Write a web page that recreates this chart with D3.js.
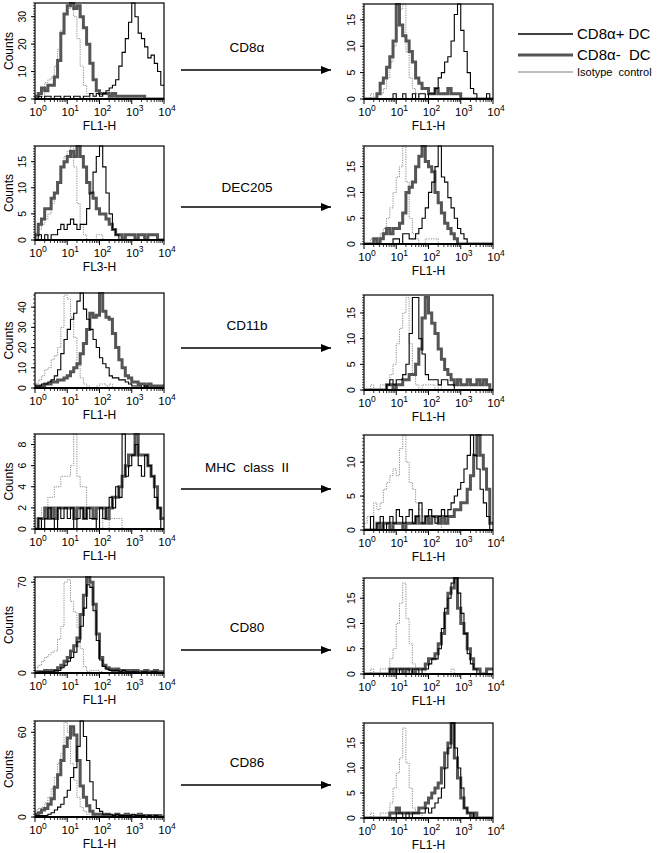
<!DOCTYPE html>
<html><head><meta charset="utf-8">
<script src="https://cdn.jsdelivr.net/npm/d3@7"></script>
<style>body{margin:0;background:#fff}svg{display:block}</style>
</head><body>
<svg id="c" width="671" height="853"></svg>
<script>
// ---- data: histogram counts, 10 bins per decade from 10^0 to 10^4 ----
const markers = ["CD8\u03b1", "DEC205", "CD11b", "MHC  class  II", "CD80", "CD86"];
const leftXLabels = ["FL1-H", "FL3-H", "FL1-H", "FL1-H", "FL1-H", "FL1-H"];
const rightXLabels = ["FL1-H", "FL1-H", "FL1-H", "FL1-H", "FL1-H", "FL1-H"];
const legendLabels = ["CD8\u03b1+ DC", "CD8\u03b1-  DC", "Isotype  control"];
const xTickExp = ["0", "1", "2", "3", "4"];

const leftYMax = [35, 18, 47, 9, 74, 68];
const rightYMax = [18, 19, 18.5, 14, 19, 19];
const leftYTicks = [[0,10,20,30],[0,5,10,15],[0,10,20,30,40],[0,2,4,6,8],[0,70],[0,60]];
const rightYTicks = [[0,5,10,15],[0,5,10,15],[0,5,10,15],[0,5,10],[0,5,10,15],[0,5,10,15]];

// CD8a
const p1L_pos = [0,1,0,1,1,0,1,1,0,1, 1,0,1,1,0,1,1,2,1,2, 1,2,3,4,5,7,12,17,22,28, 35,30,24,22,19,15,16,13,10,5];
const p1L_neg = [1,2,4,3,5,5,8,14,24,31, 34,35,33,34,30,26,20,13,7,3, 2,2,2,1,2,1,1,1,1,1, 1,1,1,1,0,0,0,0,0,0];
const p1L_iso = [0,0,1,6,7,8,12,18,25,31, 33,35,30,22,12,5,2,0,0,0, 0,0,0,0,0,0,0,0,0,0, 0,0,0,0,0,0,0,0,0,0];
const p1R_pos = [0,0,0,0,0,0,0,0,0,1, 0,0,1,0,0,1,0,1,1,0, 1,1,2,4,5,7,8,11,16,18, 13,9,5,2,1,0,0,0,1,0];
const p1R_neg = [0,0,0,0,1,3,4,6,8,11, 18,14,12,11,9,7,4,3,2,2, 1,1,2,1,1,1,2,1,1,1, 0,0,0,0,0,0,0,0,0,0];
const p1R_iso = [0,0,1,0,1,1,2,4,7,10, 14,17,18,9,4,2,1,0,0,0, 0,0,0,0,0,0,0,0,0,0, 0,0,0,0,0,0,0,0,0,0];
// DEC205
const p2L_pos = [0,1,0,1,0,1,1,2,3,2, 3,4,3,2,3,3,6,9,13,16, 18,14,9,5,2,1,0,0,0,0, 0,0,0,0,0,0,0,0,0,0];
const p2L_neg = [1,3,4,6,6,8,9,11,14,15, 16,17,16,18,16,14,11,9,8,6, 5,5,4,3,2,1,1,0,1,1, 1,0,1,1,0,1,1,1,0,0];
const p2L_iso = [1,2,3,4,5,7,9,11,14,16, 17,18,14,7,3,1,0,0,0,1, 1,0,0,0,0,0,0,0,0,0, 0,0,0,0,0,0,0,0,0,0];
const p2R_pos = [0,0,0,0,0,0,0,0,0,1, 1,0,2,2,1,1,2,3,5,7, 10,12,15,19,13,12,9,7,5,3, 2,1,0,0,0,0,0,0,0,0];
const p2R_neg = [0,0,0,1,0,1,2,3,2,3, 3,4,6,10,11,12,15,17,19,16, 15,14,10,8,6,4,3,2,1,0, 0,0,0,0,0,0,0,0,0,0];
const p2R_iso = [0,0,1,0,1,2,3,5,7,10, 13,15,19,12,5,2,1,0,0,1, 1,1,1,0,0,0,0,0,0,0, 0,0,0,0,0,0,0,0,0,0];
// CD11b
const p3L_pos = [1,1,2,2,3,4,6,9,17,24, 29,34,37,43,47,39,34,29,24,20, 15,12,10,6,5,5,4,4,3,2, 1,1,1,0,1,0,0,0,0,0];
const p3L_neg = [1,1,1,2,2,3,3,4,4,5, 6,8,10,12,17,22,29,37,35,36, 47,38,35,34,27,20,14,10,6,5, 3,3,2,2,1,2,1,1,1,1];
const p3L_iso = [2,4,6,9,10,14,16,20,30,46, 44,35,25,12,5,2,1,0,0,1, 2,2,1,2,0,0,0,0,0,0, 0,0,0,0,0,0,0,0,0,0];
const p3R_pos = [0,0,0,0,0,0,0,1,2,1, 2,2,3,5,11,18,18,10,7,3, 2,2,2,1,2,2,1,1,0,0, 0,0,0,0,0,0,0,0,0,0];
const p3R_neg = [0,0,0,0,0,0,0,1,1,0, 1,1,2,2,3,3,5,8,14,18, 15,13,11,8,6,4,3,2,1,2, 1,1,2,1,1,2,1,2,1,0];
const p3R_iso = [0,0,1,0,0,1,1,1,3,5, 9,12,15,18,9,3,1,0,1,1, 1,1,0,1,0,0,0,0,0,0, 0,0,0,0,0,0,0,0,0,0];
// MHC class II
const p4L_pos = [0,1,0,1,2,1,0,2,1,2, 1,2,0,1,2,1,2,1,1,0, 2,1,2,3,2,4,3,9,5,6, 7,8,6,5,7,6,5,3,2,0];
const p4L_neg = [0,1,1,2,1,2,1,2,2,2, 2,2,1,2,2,1,2,2,1,2, 2,2,1,2,3,3,4,5,6,7, 7,9,7,7,7,6,5,4,2,1];
const p4L_iso = [1,0,2,2,3,3,4,4,5,5, 5,6,9,5,4,4,1,1,1,0, 1,0,0,1,1,1,1,0,0,0, 0,0,0,0,0,0,0,0,0,0];
const p4R_pos = [0,0,2,0,1,2,0,1,2,1, 3,2,1,2,3,1,2,4,1,2, 3,2,1,2,3,2,3,4,5,6, 7,9,11,14,11,9,6,4,2,0];
const p4R_neg = [0,0,0,0,1,0,1,1,0,1, 1,1,0,1,1,1,2,1,1,2, 1,2,2,1,2,1,2,2,3,3, 4,4,6,8,11,14,11,9,6,1];
const p4R_iso = [1,2,2,4,3,4,6,7,8,9, 8,12,14,10,7,6,4,3,2,1, 1,2,1,1,0,0,0,0,0,0, 0,0,0,0,0,0,0,0,0,0];
// CD80
const p5L_pos = [0,1,1,1,1,1,2,2,4,6, 9,12,16,24,36,50,68,66,48,25, 10,5,3,2,2,2,1,2,1,1, 1,1,0,1,1,0,1,1,0,0];
const p5L_neg = [1,1,1,2,1,2,2,4,6,9, 12,17,21,27,45,60,74,70,53,30, 12,6,4,3,2,3,2,2,2,1, 2,2,1,1,2,1,1,2,1,1];
const p5L_iso = [4,6,9,12,14,16,17,26,36,70, 72,55,47,35,19,5,1,2,2,2, 1,0,0,0,0,0,0,0,0,0, 0,0,0,0,0,0,0,0,0,0];
const p5R_pos = [0,0,0,0,0,0,0,0,1,1, 0,1,1,1,0,1,1,0,1,1, 2,3,3,5,9,13,15,18,19,16, 12,8,4,2,1,0,0,0,0,0];
const p5R_neg = [0,0,0,0,0,0,0,0,1,0, 1,1,0,1,1,0,1,1,1,2, 3,3,4,6,8,12,16,17,19,13, 10,8,5,3,1,1,0,0,1,1];
const p5R_iso = [0,0,1,0,0,1,1,1,3,5, 10,14,18,11,6,2,1,1,1,0, 0,0,0,0,0,0,0,1,0,0, 0,0,0,0,0,0,0,0,0,0];
// CD86
const p6L_pos = [1,1,1,1,2,3,5,7,9,14, 19,28,35,50,68,57,40,25,12,6, 4,2,2,2,1,2,1,1,1,1, 2,1,1,1,0,1,0,1,0,0];
const p6L_neg = [2,3,5,6,9,13,21,30,40,50, 56,64,58,40,22,14,8,4,2,2, 2,1,2,1,1,2,1,1,2,1, 1,1,2,1,1,1,0,1,1,0];
const p6L_iso = [5,6,7,10,14,20,28,38,45,67, 60,38,26,14,7,4,2,2,1,0, 0,0,0,0,0,0,0,0,0,0, 0,0,0,0,0,0,0,0,0,0];
const p6R_pos = [0,0,0,0,0,0,0,0,0,0, 1,1,0,1,0,1,1,1,1,2, 1,2,3,4,6,10,14,19,14,10, 6,2,1,1,0,0,0,0,0,0];
const p6R_neg = [0,0,0,0,0,0,0,0,1,1, 2,1,1,1,1,1,1,2,2,3, 4,5,6,7,10,13,15,19,12,8, 4,2,1,0,1,0,0,0,0,0];
const p6R_iso = [0,0,1,0,0,1,1,1,3,6, 9,12,18,11,6,2,1,1,0,0, 0,0,0,0,0,0,0,0,0,0, 0,0,0,0,0,0,0,0,0,0];

const leftSeries = [[p1L_pos,p1L_neg,p1L_iso],[p2L_pos,p2L_neg,p2L_iso],[p3L_pos,p3L_neg,p3L_iso],[p4L_pos,p4L_neg,p4L_iso],[p5L_pos,p5L_neg,p5L_iso],[p6L_pos,p6L_neg,p6L_iso]];
const rightSeries = [[p1R_pos,p1R_neg,p1R_iso],[p2R_pos,p2R_neg,p2R_iso],[p3R_pos,p3R_neg,p3R_iso],[p4R_pos,p4R_neg,p4R_iso],[p5R_pos,p5R_neg,p5R_iso],[p6R_pos,p6R_neg,p6R_iso]];

// ---- layout ----
const FONT = "'Liberation Sans', Arial, sans-serif";
const leftBox = {x0: 35, x1: 164};
const rightBox = {x0: 364, x1: 493};
const leftRows = [[3,99],[146,240],[293,388],[434,529],[577,673],[721,817]];
const rightRows = [[4,99],[146,244],[295,390],[435,530],[578,674],[723,818]];
const markerY = [52, 192, 330, 472, 632, 767];
const arrowY = [70, 207, 348, 489, 650, 785];

const svg = d3.select("#c");
const defs = svg.append("defs");
defs.append("marker").attr("id","ah").attr("viewBox","0 0 10 8").attr("refX",10).attr("refY",4)
  .attr("markerWidth",10).attr("markerHeight",8).attr("markerUnits","userSpaceOnUse").attr("orient","auto")
  .append("path").attr("d","M0,0 L10,4 L0,8 Z").attr("fill","#000");
defs.append("clipPath").attr("id","rightclip").append("rect").attr("x",340).attr("y",0).attr("width",331).attr("height",853);

const styles = [
  {stroke:"#000", width:1.1, dash:null},        // CD8a+ DC
  {stroke:"#555", width:3, dash:null},          // CD8a- DC
  {stroke:"#8a8a8a", width:1, dash:"1.2,1.2"}   // isotype
];

let clipId = 0;
function panel(box, row, series, ymax, yticks, xlabel, clipCounts) {
  const [top, bottom] = row;
  const x = d3.scaleLog().domain([1, 1e4]).range([box.x0, box.x1]);
  const y = d3.scaleLinear().domain([0, ymax]).range([bottom, top]);
  const g = svg.append("g");
  const id = "pc" + (clipId++);
  defs.append("clipPath").attr("id", id).append("rect")
    .attr("x", box.x0).attr("y", top - 1).attr("width", box.x1 - box.x0).attr("height", bottom - top + 1);

  const line = d3.line().x(d => x(d[0])).y(d => y(d[1])).curve(d3.curveStepAfter);
  const order = [2, 1, 0];
  order.forEach(si => {
    const vals = series[si];
    const pts = [[1, 0]];
    vals.forEach((v, i) => pts.push([Math.pow(10, i / 10), v]));
    pts.push([1e4, vals[vals.length - 1]]);
    const st = styles[si];
    g.append("path").attr("d", line(pts)).attr("fill", "none")
      .attr("stroke", st.stroke).attr("stroke-width", st.width)
      .attr("stroke-dasharray", st.dash).attr("clip-path", `url(#${id})`);
  });

  // frame
  g.append("rect").attr("x", box.x0).attr("y", top).attr("width", box.x1 - box.x0).attr("height", bottom - top)
    .attr("fill", "none").attr("stroke", "#000").attr("stroke-width", 1.2);
  g.append("line").attr("x1", box.x0).attr("x2", box.x1).attr("y1", bottom).attr("y2", bottom)
    .attr("stroke", "#000").attr("stroke-width", 2);

  // x ticks
  const minor = [];
  for (let d = 0; d < 4; d++) for (let m = 2; m <= 9; m++) minor.push(m * Math.pow(10, d));
  minor.forEach(v => g.append("line").attr("x1", x(v)).attr("x2", x(v)).attr("y1", bottom).attr("y2", bottom + 3)
    .attr("stroke", "#000").attr("stroke-width", 0.8));
  xTickExp.forEach((e, i) => {
    const v = Math.pow(10, i);
    g.append("line").attr("x1", x(v)).attr("x2", x(v)).attr("y1", bottom).attr("y2", bottom + 5)
      .attr("stroke", "#000").attr("stroke-width", 1);
    const t = g.append("text").attr("x", x(v) + 3).attr("y", bottom + 17).attr("text-anchor", "middle")
      .attr("font-family", FONT).attr("font-size", 11.5).attr("fill", "#000");
    t.append("tspan").text("10");
    t.append("tspan").attr("dy", -5).attr("font-size", 8.5).text(e);
  });
  g.append("text").attr("x", (box.x0 + box.x1) / 2).attr("y", bottom + 31).attr("text-anchor", "middle")
    .attr("font-family", FONT).attr("font-size", 12).text(xlabel);

  // y ticks
  const step = ymax > 40 ? 2 : (ymax > 20 ? 1 : (ymax > 10 ? 0.5 : 0.25));
  for (let v = 0; v <= ymax; v += step) {
    g.append("line").attr("x1", box.x0 - 2).attr("x2", box.x0).attr("y1", y(v)).attr("y2", y(v))
      .attr("stroke", "#000").attr("stroke-width", 0.7);
  }
  yticks.forEach(v => {
    g.append("line").attr("x1", box.x0 - 4).attr("x2", box.x0).attr("y1", y(v)).attr("y2", y(v))
      .attr("stroke", "#000").attr("stroke-width", 1);
    g.append("text").attr("transform", `translate(${box.x0 - 9},${y(v)}) rotate(-90)`)
      .attr("text-anchor", "middle").attr("font-family", FONT).attr("font-size", 10.5).text(v);
  });
  const cy = (top + bottom) / 2;
  const ct = g.append("text").attr("transform", `translate(${box.x0 - 22},${cy}) rotate(-90)`)
    .attr("text-anchor", "middle").attr("font-family", FONT).attr("font-size", 12).text("Counts");
  if (clipCounts) ct.attr("clip-path", "url(#rightclip)");
}

for (let r = 0; r < 6; r++) {
  panel(leftBox, leftRows[r], leftSeries[r], leftYMax[r], leftYTicks[r], leftXLabels[r], false);
  panel(rightBox, rightRows[r], rightSeries[r], rightYMax[r], rightYTicks[r], rightXLabels[r], true);
  svg.append("text").attr("x", 247).attr("y", markerY[r]).attr("text-anchor", "middle")
    .attr("font-family", FONT).attr("font-size", 13.5).attr("xml:space", "preserve").text(markers[r]);
  svg.append("line").attr("x1", 181).attr("x2", 331).attr("y1", arrowY[r]).attr("y2", arrowY[r])
    .attr("stroke", "#000").attr("stroke-width", 1.3).attr("marker-end", "url(#ah)");
}

// legend
const legY = [34, 55, 72];
const legStroke = [{c:"#000", w:1.3}, {c:"#555", w:3}, {c:"#aaa", w:1.3}];
const legSize = [15, 15, 11];
legendLabels.forEach((lab, i) => {
  svg.append("line").attr("x1", 518).attr("x2", 573).attr("y1", legY[i]).attr("y2", legY[i])
    .attr("stroke", legStroke[i].c).attr("stroke-width", legStroke[i].w);
  svg.append("text").attr("x", 577).attr("y", legY[i] + legSize[i] * 0.36).attr("font-family", FONT)
    .attr("font-size", legSize[i]).attr("xml:space", "preserve").text(lab);
});
</script>
</body></html>
